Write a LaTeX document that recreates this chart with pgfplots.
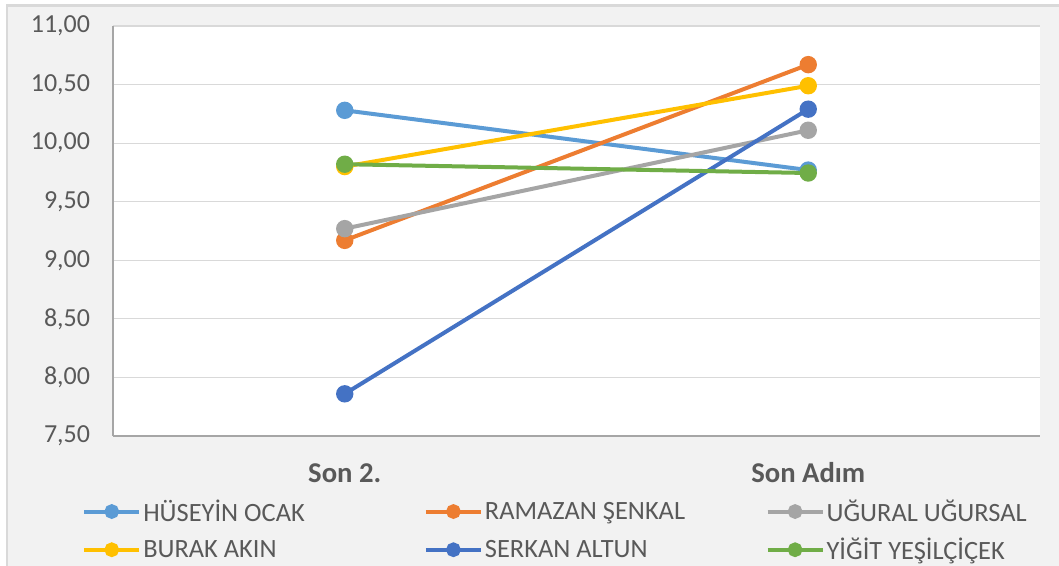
\documentclass[border=0pt]{standalone}
\usepackage{pgfplots}
\pgfplotsset{compat=1.18}
\usepackage{fontspec}
\setmainfont{Carlito}
\definecolor{cA}{HTML}{5B9BD5}
\definecolor{cB}{HTML}{ED7D31}
\definecolor{cC}{HTML}{A5A5A5}
\definecolor{cD}{HTML}{FFC000}
\definecolor{cE}{HTML}{4472C4}
\definecolor{cF}{HTML}{70AD47}
\definecolor{bg}{HTML}{F2F2F2}
\definecolor{brd}{HTML}{D9D9D9}
\definecolor{txt}{HTML}{595959}
\definecolor{gridc}{HTML}{D9D9D9}
\definecolor{axc}{HTML}{A6A6A6}
\newcommand{\lt}[1]{\makebox[209pt][l]{#1}}
\begin{document}
\begin{tikzpicture}
\useasboundingbox (-84.75pt,-97.5pt) rectangle (709.5pt,327pt);
\fill[white] (-84.75pt,-97.5pt) rectangle (709.5pt,327pt);
\filldraw[fill=bg,draw=brd,line width=2pt] (-79.5pt,-110pt) rectangle (720pt,323pt);
\begin{axis}[
  at={(0pt,0pt)}, anchor=south west,
  scale only axis, width=695.25pt, height=307.5pt,
  xmin=-0.5, xmax=1.5, ymin=7.5, ymax=11,
  xtick={0,1}, xticklabels={Son 2.,Son Adım},
  ytick={7.5,8,8.5,9,9.5,10,10.5,11},
  axis background/.style={fill=white},
  axis x line*=bottom, axis y line*=left,
  axis line style={axc, line width=0.9pt},
  ymajorgrids, grid style={gridc, line width=0.9pt},
  major tick length=0pt,
  yticklabel style={anchor=east, inner sep=0pt, xshift=-17pt, font=\fontsize{19.5}{22}\selectfont, text=txt},
  xticklabel style={anchor=center, inner sep=0pt, yshift=-27.75pt, font=\bfseries\fontsize{21.5}{24}\selectfont, text=txt},
  /pgf/number format/.cd, fixed, fixed zerofill, precision=2, use comma, assume math mode=true,
  /pgfplots/.cd,
  every axis plot/.append style={line width=3pt, mark=*, mark size=5pt, mark options={solid}},
  legend columns=3,
  legend style={at={(axis description cs:-0.0334,-0.1500)}, anchor=north west, draw=none, fill=none,
    font=\fontsize{19.8}{22}\selectfont, text=txt, column sep=0pt, row sep=8pt, inner sep=0pt,
    nodes={inner sep=1.5pt}},
  legend image code/.code={\draw[mark repeat=2,mark phase=2,#1,mark size=4pt] plot coordinates {(0pt,0pt) (20.6pt,0pt) (41.25pt,0pt)};},
  clip=false
]
\addplot[cA] coordinates {(0,10.28) (1,9.77)};
\addlegendentry{\lt{HÜSEYİN OCAK}}
\addplot[cB] coordinates {(0,9.17) (1,10.67)};
\addlegendentry{\lt{RAMAZAN ŞENKAL}}
\addplot[cC] coordinates {(0,9.27) (1,10.11)};
\addlegendentry{\lt{UĞURAL UĞURSAL}}
\addplot[cD] coordinates {(0,9.80) (1,10.49)};
\addlegendentry{\lt{BURAK AKIN}}
\addplot[cE] coordinates {(0,7.86) (1,10.29)};
\addlegendentry{\lt{SERKAN ALTUN}}
\addplot[cF] coordinates {(0,9.82) (1,9.745)};
\addlegendentry{\lt{YİĞİT YEŞİLÇİÇEK}}
\end{axis}
\end{tikzpicture}
\end{document}
